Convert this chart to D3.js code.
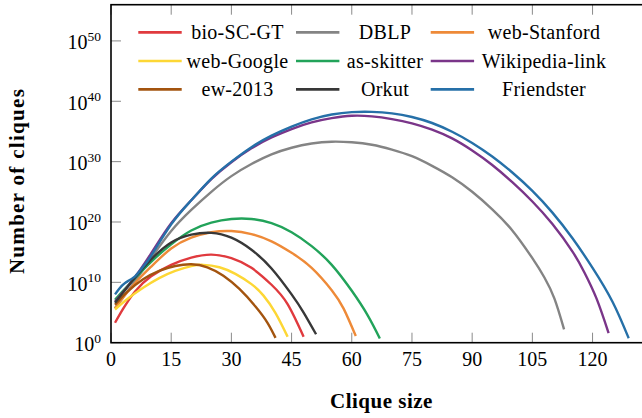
<!DOCTYPE html>
<html>
<head>
<meta charset="utf-8">
<script src="https://cdn.jsdelivr.net/npm/d3@7"></script>
<style>
  body { margin: 0; background: #fff; }
  svg { display: block; font-family: "Liberation Serif", "DejaVu Serif", serif; }
</style>
</head>
<body>
<div id="chart"></div>
<script>
// series names in legend order (row by row)
const seriesNames = ['bio-SC-GT', 'DBLP', 'web-Stanford', 'web-Google', 'as-skitter',
  'Wikipedia-link', 'ew-2013', 'Orkut', 'Friendster'];
const seriesColors = ['#e03a3e', '#848484', '#ee8a38', '#fdd735', '#22a35a',
  '#7a3589', '#a3540f', '#383838', '#2670a8'];

// [clique size, log10(number of cliques)]
const bioSC = [[1, 3.3], [3, 5.6], [6, 8.5], [10, 11.0], [15, 12.9], [20, 14.1], [25, 14.6],
  [30, 14.0], [35, 12.4], [40, 9.6], [44, 6.4], [48, 1.0]];
const dblp = [[1, 5.7], [3, 7.5], [6, 10.2], [10, 14.0], [15, 18.5], [20, 22.0], [25, 25.0],
  [30, 27.6], [35, 29.6], [40, 31.2], [45, 32.3], [50, 33.0], [55, 33.3], [60, 33.2],
  [65, 32.8], [70, 32.0], [75, 30.9], [80, 29.3], [85, 27.4], [90, 25.0], [95, 22.1],
  [100, 18.6], [105, 14.0], [108, 10.8], [110.5, 7.3], [112.9, 2.2]];
const webStanford = [[1, 5.7], [3, 7.5], [6, 9.9], [10, 12.6], [15, 15.6], [20, 17.4], [25, 18.3],
  [30, 18.5], [35, 18.0], [40, 16.8], [45, 14.9], [50, 12.4], [55, 8.7], [58, 5.6], [61, 1.1]];
const webGoogle = [[1, 5.5], [4, 7.2], [8, 9.1], [12, 10.7], [16, 11.9], [20, 12.7], [23, 12.9],
  [27, 12.5], [31, 11.4], [35, 9.7], [38, 7.8], [41, 4.9], [44, 1.0]];
const asSkitter = [[1, 7.1], [3, 8.6], [6, 10.7], [10, 13.4], [15, 16.3], [20, 18.6], [25, 19.9],
  [30, 20.5], [35, 20.5], [40, 19.8], [45, 18.3], [50, 16.0], [55, 12.9], [60, 8.6],
  [64, 4.5], [67, 0.7]];
const wikiLink = [[1, 6.8], [3, 8.4], [6, 10.9], [10, 14.8], [15, 19.8], [20, 23.6], [25, 27.1],
  [30, 29.9], [35, 32.2], [40, 34.0], [45, 35.4], [50, 36.5], [55, 37.2], [60, 37.6],
  [65, 37.5], [70, 37.05], [75, 36.35], [80, 35.3], [85, 33.85], [90, 31.85], [95, 29.45],
  [100, 26.6], [105, 23.4], [110, 19.65], [115, 15.1], [118, 11.6], [121, 7.3], [124, 1.6]];
const ew2013 = [[1, 6.3], [4, 8.4], [8, 10.5], [12, 11.9], [16, 12.7], [20, 13.0], [24, 12.5],
  [28, 11.1], [32, 8.9], [36, 6.0], [39, 3.3], [41, 0.8]];
const orkut = [[1, 6.6], [3, 8.3], [6, 10.8], [10, 13.8], [15, 16.6], [20, 17.9], [25, 18.2],
  [30, 17.4], [35, 15.4], [40, 12.3], [45, 8.0], [48, 5.0], [51.1, 1.4]];
const friendster = [[1, 8.0], [2, 8.9], [3.5, 9.9], [6, 11.0], [8, 12.6], [10, 14.4], [15, 19.6],
  [20, 23.6], [25, 27.2], [30, 30.0], [35, 32.4], [40, 34.3], [45, 35.8], [50, 37.0],
  [55, 37.8], [60, 38.2], [65, 38.25], [70, 38.0], [75, 37.4], [80, 36.4], [85, 34.95],
  [90, 33.1], [95, 30.85], [100, 28.2], [105, 25.15], [110, 21.55], [115, 17.3], [120, 12.4],
  [125, 6.75], [129, 0.75]];

const seriesData = [bioSC, dblp, webStanford, webGoogle, asSkitter, wikiLink, ew2013, orkut, friendster];

const xTicks = [0, 15, 30, 45, 60, 75, 90, 105, 120];
const yTickExps = [0, 10, 20, 30, 40, 50];

const width = 642, height = 418;
const margin = { left: 111, top: 4.7, bottom: 342.7 };

const svg = d3.select('#chart').append('svg')
  .attr('width', width)
  .attr('height', height);

const x = d3.scaleLinear().domain([0, 135]).range([margin.left, margin.left + 135 * 4.013]);
const y = d3.scaleLog().domain([1, 1e56]).range([margin.bottom, margin.top]);

const plotRight = x(135);

// ticks (inner, grey) on all four sides
const tickLen = 10;
const tickG = svg.append('g').attr('stroke', '#8a8a8a').attr('stroke-width', 1);
xTicks.forEach((t) => {
  tickG.append('line').attr('x1', x(t)).attr('x2', x(t))
    .attr('y1', margin.bottom).attr('y2', margin.bottom - tickLen);
  tickG.append('line').attr('x1', x(t)).attr('x2', x(t))
    .attr('y1', margin.top).attr('y2', margin.top + tickLen);
});
yTickExps.forEach((e) => {
  const v = Math.pow(10, e);
  tickG.append('line').attr('x1', margin.left).attr('x2', margin.left + tickLen)
    .attr('y1', y(v)).attr('y2', y(v));
  tickG.append('line').attr('x1', plotRight).attr('x2', plotRight - tickLen)
    .attr('y1', y(v)).attr('y2', y(v));
});

// clip for the curves
svg.append('clipPath').attr('id', 'plotclip')
  .append('rect')
  .attr('x', margin.left).attr('y', margin.top)
  .attr('width', plotRight - margin.left).attr('height', margin.bottom - margin.top);

const line = d3.line()
  .x((d) => x(d[0]))
  .y((d) => y(Math.pow(10, d[1])))
  .curve(d3.curveNatural);

svg.append('g').attr('clip-path', 'url(#plotclip)')
  .selectAll('path')
  .data(seriesData)
  .enter()
  .append('path')
  .attr('d', line)
  .attr('fill', 'none')
  .attr('stroke', (d, i) => seriesColors[i])
  .attr('stroke-width', 2.4);

// frame
svg.append('rect')
  .attr('x', margin.left).attr('y', margin.top)
  .attr('width', plotRight - margin.left).attr('height', margin.bottom - margin.top)
  .attr('fill', 'none').attr('stroke', '#000').attr('stroke-width', 1.6);

// x tick labels
svg.append('g').selectAll('text')
  .data(xTicks)
  .enter()
  .append('text')
  .attr('x', (d) => x(d))
  .attr('y', margin.bottom + 23.5)
  .attr('text-anchor', 'middle')
  .style('font-size', '20px')
  .text((d) => d);

// y tick labels 10^n
const yLab = svg.append('g').selectAll('text')
  .data(yTickExps)
  .enter()
  .append('text')
  .attr('x', margin.left - 10)
  .attr('y', (d) => y(Math.pow(10, d)) + 8.5)
  .attr('text-anchor', 'end')
  .style('font-size', '20px');
yLab.append('tspan').text('10');
yLab.append('tspan').attr('dy', -8.5).style('font-size', '13.5px').text((d) => d);

// axis titles
svg.append('text')
  .attr('x', 381.5)
  .attr('y', 408)
  .attr('text-anchor', 'middle')
  .style('font-size', '21px')
  .style('font-weight', 'bold')
  .style('letter-spacing', '0.5px')
  .text('Clique size');

svg.append('text')
  .attr('transform', 'translate(24, 181) rotate(-90)')
  .attr('text-anchor', 'middle')
  .style('font-size', '21px')
  .style('font-weight', 'bold')
  .style('letter-spacing', '1.3px')
  .text('Number of cliques');

// legend, 3 columns
const legCols = [[138.3, 237.5], [296, 385], [430.7, 544]];
const legRows = [32.3, 61, 89.3];
const leg = svg.append('g').selectAll('g')
  .data(seriesNames)
  .enter()
  .append('g')
  .attr('transform', (d, i) => `translate(0, ${legRows[Math.floor(i / 3)]})`);
leg.append('line')
  .attr('x1', (d, i) => legCols[i % 3][0])
  .attr('x2', (d, i) => legCols[i % 3][0] + 43.4)
  .attr('stroke', (d, i) => seriesColors[i])
  .attr('stroke-width', 2.7);
leg.append('text')
  .attr('x', (d, i) => legCols[i % 3][1])
  .attr('y', 6.5)
  .attr('text-anchor', 'middle')
  .style('font-size', '20px')
  .style('letter-spacing', '0.3px')
  .text((d) => d);
</script>
</body>
</html>
